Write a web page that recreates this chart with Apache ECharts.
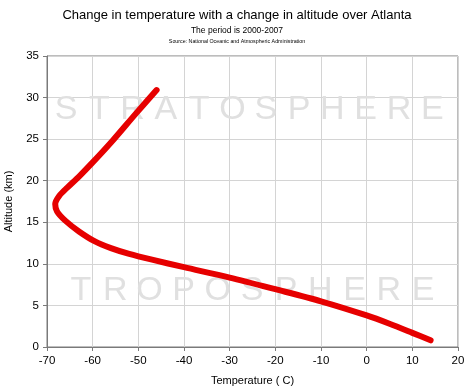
<!DOCTYPE html>
<html><head><meta charset="utf-8">
<script src="https://cdn.jsdelivr.net/npm/echarts@6/dist/echarts.min.js"></script>
<style>html,body{margin:0;padding:0;background:#fff}#c{width:474px;height:389px}</style>
</head><body><div id="c"></div>
<script>
const temps = [14, 10, 5, 0, -10, -20, -30, -40, -47, -52, -56, -59.5, -63, -66, -67.8, -68.2, -67.3, -65.5, -63, -60, -55.5, -50.5, -46];
const alts  = [0.8, 1.7, 2.8, 3.8, 5.5, 6.95, 8.35, 9.6, 10.5, 11.2, 11.9, 12.7, 13.9, 15.2, 16.3, 17.2, 18.2, 19.2, 20.5, 22.2, 24.9, 28.1, 30.9];
const xTicks = [-70, 20, 10];
const yTicks = [0, 35, 5];
const watermarkTop = 'STRATOSPHERE';
const watermarkBottom = 'TROPOSPHERE';
const FONT = "'Liberation Sans', Arial, sans-serif";

const chart = echarts.init(document.getElementById('c'), null, {renderer: 'canvas'});
const data = temps.map((t, i) => [t, alts[i]]);

function letters(word, x0, pitch, y) {
  return word.split('').map((ch, i) => ({
    type: 'text', z: 1, silent: true,
    x: x0 + i * pitch, y: y,
    style: {text: ch, fill: '#e0e0e0', font: '34px ' + FONT, align: 'center', verticalAlign: 'middle'}
  }));
}

chart.setOption({
  animation: false,
  backgroundColor: '#fff',
  title: [
    {text: 'Change in temperature with a change in altitude over Atlanta', left: 'center', top: 4,
     textStyle: {fontFamily: FONT, fontSize: 13, fontWeight: 'normal', color: '#000'}},
    {text: 'The period is 2000-2007', left: 'center', top: 21,
     textStyle: {fontFamily: FONT, fontSize: 8.5, fontWeight: 'normal', color: '#000'}},
    {text: 'Source: National Oceanic and Atmospheric Administration', left: 'center', top: 34,
     textStyle: {fontFamily: FONT, fontSize: 5.3, fontWeight: 'normal', color: '#000'}}
  ],
  grid: {left: 47, right: 16, top: 56, bottom: 42, outerBoundsMode: 'none', containLabel: false,
         show: true, borderColor: '#7a7a7a', borderWidth: 1, backgroundColor: 'transparent'},
  xAxis: {
    type: 'value', min: xTicks[0], max: xTicks[1], interval: xTicks[2],
    name: 'Temperature ( C)', nameLocation: 'middle', nameGap: 28,
    nameTextStyle: {fontFamily: FONT, fontSize: 11, color: '#000'},
    axisLine: {show: true, onZero: false, lineStyle: {color: '#7a7a7a', width: 1}},
    axisTick: {show: true, length: 4, lineStyle: {color: '#7a7a7a'}},
    axisLabel: {fontFamily: FONT, fontSize: 11.5, color: '#000', margin: 8},
    splitLine: {show: true, lineStyle: {color: '#d4d4d4', width: 1}}
  },
  yAxis: {
    type: 'value', min: yTicks[0], max: yTicks[1], interval: yTicks[2],
    name: 'Altitude (km)', nameLocation: 'middle', nameGap: 33, nameRotate: 90,
    nameTextStyle: {fontFamily: FONT, fontSize: 11, color: '#000'},
    axisLine: {show: true, onZero: false, lineStyle: {color: '#7a7a7a', width: 1}},
    axisTick: {show: true, length: 4, lineStyle: {color: '#7a7a7a'}},
    axisLabel: {fontFamily: FONT, fontSize: 11.5, color: '#000', margin: 8},
    splitLine: {show: true, lineStyle: {color: '#d4d4d4', width: 1}}
  },
  graphic: [].concat(letters(watermarkTop, 66, 33.3, 110), letters(watermarkBottom, 81, 34.2, 291)),
  series: [{
    type: 'line', data: data, smooth: 0.3, showSymbol: false, z: 3,
    lineStyle: {color: '#e60000', width: 6, cap: 'round', join: 'round'}
  }]
});
</script></body></html>
